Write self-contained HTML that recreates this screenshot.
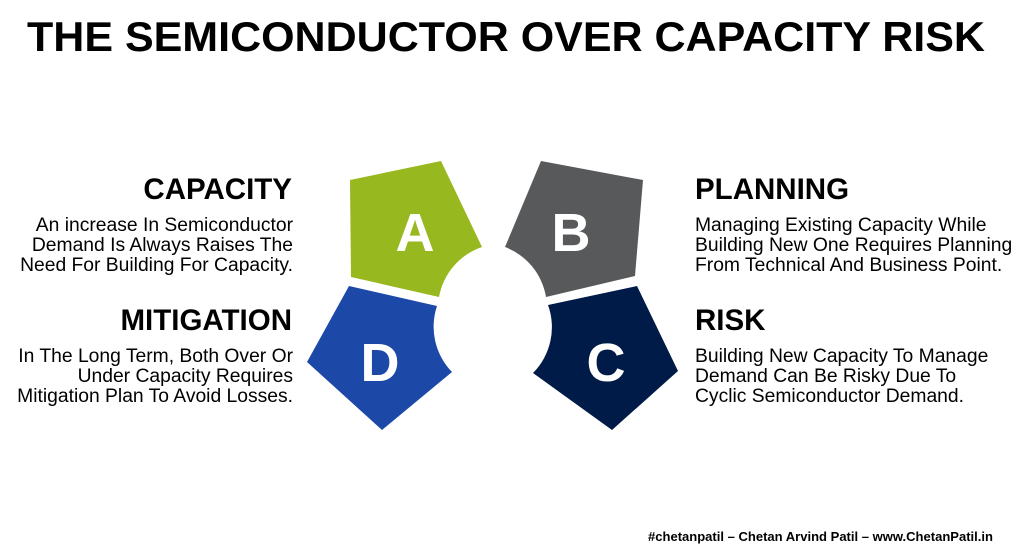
<!DOCTYPE html>
<html><head><meta charset="utf-8"><style>
html,body{margin:0;padding:0;background:#fff;}
svg{display:block;font-family:"Liberation Sans",Arial,sans-serif;}
</style></head><body>
<svg width="1024" height="549" viewBox="0 0 1024 549" xmlns="http://www.w3.org/2000/svg">
<rect width="1024" height="549" fill="#fff"/>
<text x="27" y="51" font-size="42" font-weight="bold" fill="#000" textLength="958" lengthAdjust="spacingAndGlyphs">THE SEMICONDUCTOR OVER CAPACITY RISK</text>

<path d="M350,180 L441,161 L482,247 A65,65 0 0 0 439,297 L351,277 Z" fill="#97b81f"/>
<path d="M643,180 L635,276 L546,297 A65,65 0 0 0 505,247 L541,161 Z" fill="#58595b"/>
<path d="M307,362 L349,286 L437,306 A65,65 0 0 0 452,372 L382,430 Z" fill="#1c48a8"/>
<path d="M548,305 L637,286 L678,371 L612,430 L533,373 A65,65 0 0 0 548,305 Z" fill="#001b48"/>

<g font-weight="bold" font-size="54" fill="#fff" text-anchor="middle">
<text x="415" y="251">A</text>
<text x="571" y="251">B</text>
<text x="380" y="381">D</text>
<text x="606" y="381">C</text>
</g>

<g text-anchor="end" fill="#000">
<text x="292" y="199" font-size="29.5" font-weight="bold">CAPACITY</text>
<text x="293" y="231" font-size="19.3">An increase In Semiconductor</text>
<text x="293" y="251" font-size="19.3">Demand Is Always Raises The</text>
<text x="293" y="271" font-size="19.3">Need For Building For Capacity.</text>
<text x="292" y="330" font-size="29.5" font-weight="bold">MITIGATION</text>
<text x="293" y="362" font-size="19.3">In The Long Term, Both Over Or</text>
<text x="293" y="382" font-size="19.3">Under Capacity Requires</text>
<text x="293" y="402" font-size="19.3">Mitigation Plan To Avoid Losses.</text>
</g>
<g fill="#000">
<text x="695" y="199" font-size="29.5" font-weight="bold">PLANNING</text>
<text x="695" y="231" font-size="19.3">Managing Existing Capacity While</text>
<text x="695" y="251" font-size="19.3">Building New One Requires Planning</text>
<text x="695" y="271" font-size="19.3">From Technical And Business Point.</text>
<text x="695" y="330" font-size="29.5" font-weight="bold">RISK</text>
<text x="695" y="362" font-size="19.3">Building New Capacity To Manage</text>
<text x="695" y="382" font-size="19.3">Demand Can Be Risky Due To</text>
<text x="695" y="402" font-size="19.3">Cyclic Semiconductor Demand.</text>
</g>
<text x="648" y="541" font-size="12.5" font-weight="bold" fill="#000" textLength="345" lengthAdjust="spacingAndGlyphs">#chetanpatil – Chetan Arvind Patil – www.ChetanPatil.in</text>
</svg>
</body></html>
